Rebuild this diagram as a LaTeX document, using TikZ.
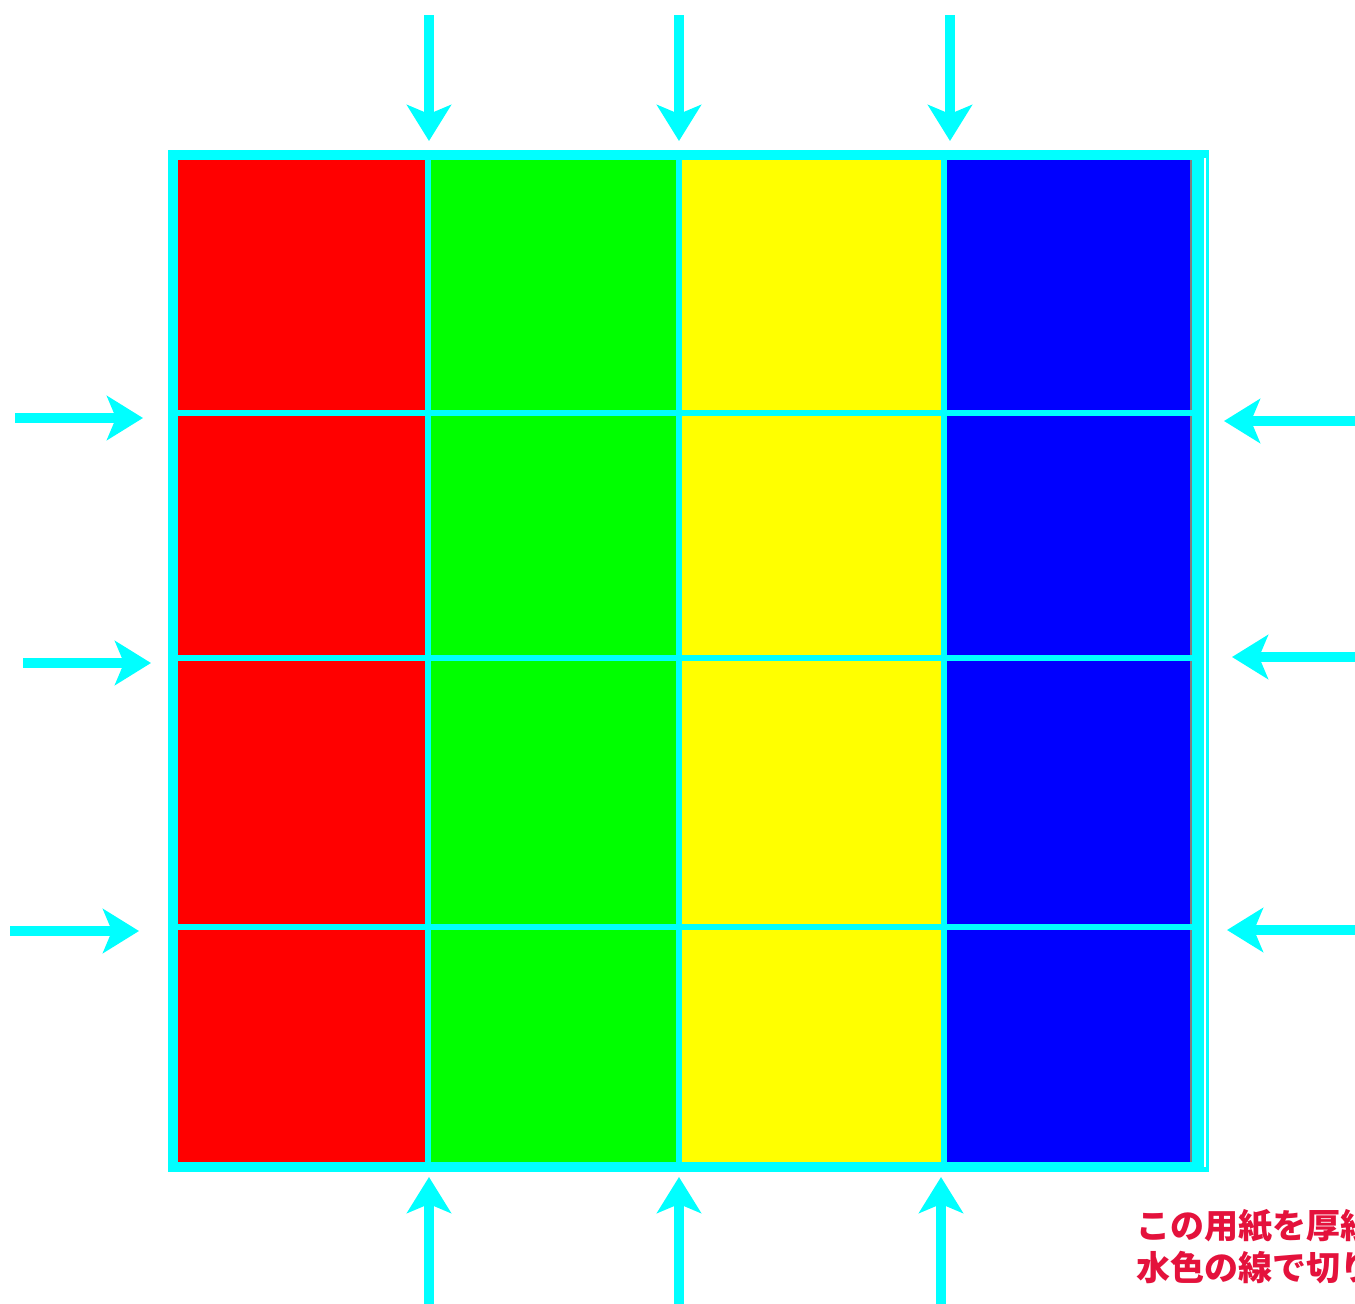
\documentclass[tikz,border=0pt]{standalone}
\usepackage{fontspec}
\newfontfamily\jpfont{Noto Sans CJK JP}
\usetikzlibrary{arrows.meta}
\definecolor{cyanline}{RGB}{0,255,255}
\definecolor{cellred}{RGB}{255,0,0}
\definecolor{cellgreen}{RGB}{0,255,0}
\definecolor{cellyellow}{RGB}{255,255,0}
\definecolor{cellblue}{RGB}{0,0,255}
\definecolor{notered}{RGB}{228,18,60}
\tikzset{
  cutarrow/.style={draw=cyanline, line width=10pt, -{Stealth[length=36pt,width=44pt,inset=9pt]}},
  gridline/.style={draw=cyanline, line width=6pt},
  frameline/.style={draw=cyanline, line width=10pt},
  notetext/.style={text=notered, font=\jpfont\bfseries\fontsize{34}{40}\selectfont, anchor=west, inner sep=0pt}
}
\begin{document}
\begin{tikzpicture}[x=1pt,y=-1pt]
\useasboundingbox (0,0) rectangle (1355,1304);
\fill[white] (0,0) rectangle (1355,1304);
% cells
\fill[cellred] (173,155) rectangle (428,1167);
\fill[cellgreen] (428,155) rectangle (679,1167);
\fill[cellyellow] (679,155) rectangle (944,1167);
\fill[cellblue] (944,155) rectangle (1192,1167);
\draw[gray, line width=1.5pt] (1191,160) -- (1191,1164);
% frame
\coordinate (tl) at (173,155);
\coordinate (br) at (1204,1167);
\draw[frameline] (tl) rectangle (br);
\fill[cyanline] (1192,150) rectangle (1204,1172);
\draw[white, line width=2pt] (1205,158) -- (1205,1167);
% grid
\foreach \x/\n in {428/a,679/b,944/c}{
  \coordinate (v\n t) at (\x,155);
  \coordinate (v\n b) at (\x,1167);
  \draw[gridline] (v\n t) -- (v\n b);
}
\foreach \y/\n in {413/a,658/b,927/c}{
  \coordinate (h\n l) at (173,\y);
  \coordinate (h\n r) at (1192,\y);
  \draw[gridline] (h\n l) -- (h\n r);
}
% top arrows
\foreach \x/\n in {429/a,679/b,950/c}{
  \coordinate (ts\n) at (\x,15);
  \coordinate (te\n) at (\x,141);
  \draw[cutarrow] (ts\n) -- (te\n);
}
% bottom arrows
\foreach \x/\n in {429/a,679/b,941/c}{
  \coordinate (bs\n) at (\x,1304);
  \coordinate (be\n) at (\x,1177);
  \draw[cutarrow] (bs\n) -- (be\n);
}
% left arrows
\coordinate (ls1) at (15,418); \coordinate (le1) at (143,418);
\coordinate (ls2) at (23,663); \coordinate (le2) at (151,663);
\coordinate (ls3) at (10,931); \coordinate (le3) at (139,931);
\draw[cutarrow] (ls1) -- (le1);
\draw[cutarrow] (ls2) -- (le2);
\draw[cutarrow] (ls3) -- (le3);
% right arrows
\coordinate (rs1) at (1355,421); \coordinate (re1) at (1224,421);
\coordinate (rs2) at (1360,657); \coordinate (re2) at (1232,657);
\coordinate (rs3) at (1360,930); \coordinate (re3) at (1227,930);
\draw[cutarrow] (rs1) -- (re1);
\draw[cutarrow] (rs2) -- (re2);
\draw[cutarrow] (rs3) -- (re3);
% note
\begin{scope}
\clip (0,0) rectangle (1355,1304);
\node[notetext] (note1) at (1136,1226) {この用紙を厚紙};
\node[notetext] (note2) at (1136,1268) {水色の線で切り};
\end{scope}
\end{tikzpicture}
\end{document}
